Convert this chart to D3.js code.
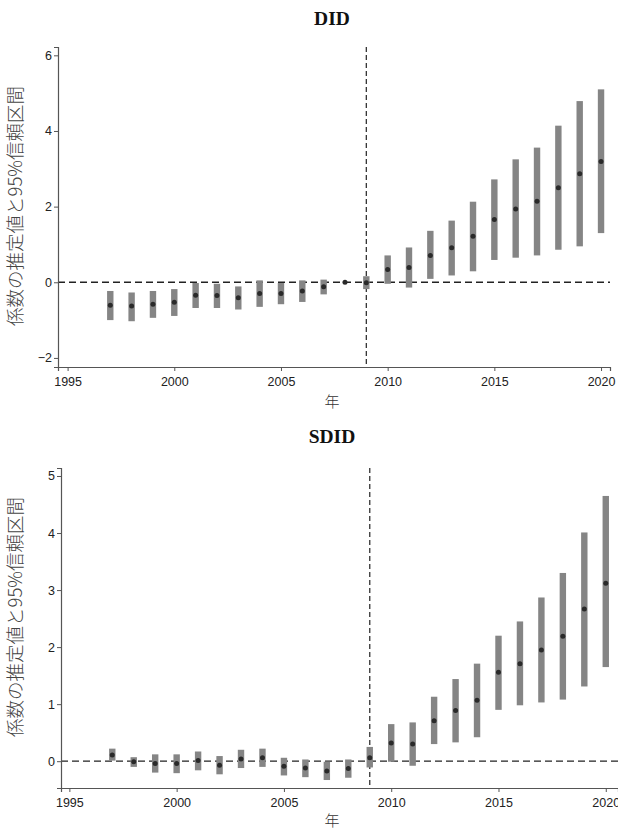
<!DOCTYPE html>
<html>
<head>
<meta charset="utf-8">
<script src="https://cdn.jsdelivr.net/npm/d3@7"></script>
<style>
  body { margin: 0; background: #fff; }
  text { fill: #222; }
</style>
</head>
<body>
<svg id="chart" width="618" height="831"></svg>
<script>
// Years for both panels
var years = [1997, 1998, 1999, 2000, 2001, 2002, 2003, 2004, 2005, 2006, 2007, 2008, 2009,
             2010, 2011, 2012, 2013, 2014, 2015, 2016, 2017, 2018, 2019, 2020];

// DID estimates and 95% CI
var didEst = [-0.61, -0.63, -0.58, -0.53, -0.34, -0.35, -0.41, -0.30, -0.30, -0.23, -0.12, 0.00, -0.01,
              0.34, 0.39, 0.71, 0.91, 1.22, 1.66, 1.94, 2.14, 2.50, 2.87, 3.19];
var didLo  = [-1.00, -1.03, -0.94, -0.89, -0.68, -0.68, -0.72, -0.65, -0.58, -0.52, -0.32, 0.00, -0.18,
              -0.04, -0.14, 0.09, 0.18, 0.29, 0.59, 0.65, 0.71, 0.86, 0.95, 1.30];
var didHi  = [-0.23, -0.27, -0.23, -0.18, -0.02, -0.04, -0.11, 0.05, -0.02, 0.05, 0.07, 0.00, 0.16,
              0.71, 0.92, 1.36, 1.63, 2.13, 2.72, 3.25, 3.56, 4.14, 4.79, 5.10];

// SDID estimates and 95% CI
var sdidEst = [0.11, -0.01, -0.04, -0.04, 0.01, -0.07, 0.04, 0.06, -0.09, -0.12, -0.17, -0.13, 0.06,
               0.32, 0.30, 0.71, 0.89, 1.07, 1.56, 1.71, 1.95, 2.19, 2.67, 3.12];
var sdidLo  = [0.01, -0.10, -0.20, -0.21, -0.16, -0.23, -0.12, -0.10, -0.25, -0.28, -0.33, -0.29, -0.11,
               -0.01, -0.08, 0.30, 0.33, 0.42, 0.90, 0.98, 1.03, 1.08, 1.31, 1.65];
var sdidHi  = [0.22, 0.07, 0.12, 0.12, 0.17, 0.09, 0.20, 0.22, 0.06, 0.03, -0.01, 0.03, 0.25,
               0.65, 0.68, 1.13, 1.44, 1.71, 2.20, 2.45, 2.87, 3.30, 4.01, 4.65];

var xTicks = [1995, 2000, 2005, 2010, 2015, 2020];
var didYTicks = [-2, 0, 2, 4, 6];
var sdidYTicks = [0, 1, 2, 3, 4, 5];
var treatYear = 2009;
var yLabel = "係数の推定値と95%信頼区間";
var xLabel = "年";

var svg = d3.select("#chart");

function drawPanel(opt) {
    var g = svg.append("g");

    var x = d3.scaleLinear().domain(opt.xDomain).range([opt.left, opt.right]);
    var y = d3.scaleLinear().domain(opt.yDomain).range([opt.bottom, opt.top]);

    // Title
    g.append("text")
        .attr("x", opt.titleX).attr("y", opt.titleY)
        .attr("text-anchor", "middle")
        .style("font-family", "'Liberation Serif', 'DejaVu Serif', serif")
        .style("font-size", "19.5px")
        .style("font-weight", "bold")
        .style("fill", "#111")
        .text(opt.title);

    // Reference lines
    g.append("line")
        .attr("x1", opt.left).attr("x2", opt.right)
        .attr("y1", y(0)).attr("y2", y(0))
        .attr("stroke", "#222").attr("stroke-width", 1.3)
        .attr("stroke-dasharray", "7,4");

    g.append("line")
        .attr("x1", x(treatYear)).attr("x2", x(treatYear))
        .attr("y1", opt.top).attr("y2", opt.bottom)
        .attr("stroke", "#333").attr("stroke-width", 1.3)
        .attr("stroke-dasharray", "5,3");

    // CI bars
    var rows = opt.years.map(function (yr, i) {
        return { year: yr, est: opt.est[i], lo: opt.lo[i], hi: opt.hi[i] };
    });

    g.selectAll(".ci").data(rows.filter(function (d) { return d.hi > d.lo; }))
        .enter().append("rect")
        .attr("x", function (d) { return x(d.year) - 3.2; })
        .attr("width", 6.4)
        .attr("y", function (d) { return y(d.hi); })
        .attr("height", function (d) { return y(d.lo) - y(d.hi); })
        .attr("fill", "#858585");

    g.selectAll(".pt").data(rows)
        .enter().append("circle")
        .attr("cx", function (d) { return x(d.year); })
        .attr("cy", function (d) { return y(d.est); })
        .attr("r", 2.5)
        .attr("fill", "#2a2a2a");

    // Axes
    var ax = g.append("g")
        .attr("transform", "translate(0," + opt.bottom + ")")
        .call(d3.axisBottom(x).tickValues(xTicks).tickFormat(d3.format("d")).tickSizeOuter(0).tickSize(4));
    var ay = g.append("g")
        .attr("transform", "translate(" + opt.left + ",0)")
        .call(d3.axisLeft(y).tickValues(opt.yTicks).tickFormat(d3.format("d")).tickSizeOuter(0).tickSize(4));

    [ax, ay].forEach(function (a) {
        a.select(".domain").attr("stroke", "#555").attr("stroke-width", 1.2);
        a.selectAll(".tick line").attr("stroke", "#555");
        a.selectAll(".tick text")
            .style("font-family", "'Liberation Sans', Arial, sans-serif")
            .style("font-size", "12.5px")
            .style("fill", "#222");
    });
    ax.selectAll(".tick text").attr("dy", "0.95em");
    ay.selectAll(".tick text").attr("x", -6);

    // Axis titles
    g.append("text")
        .attr("x", opt.xLabelX).attr("y", opt.xLabelY)
        .attr("text-anchor", "middle")
        .style("font-family", "'Noto Sans CJK JP', sans-serif")
        .style("font-size", "15px")
        .style("font-weight", 300)
        .style("fill", "#333")
        .text(xLabel);

    g.append("text")
        .attr("transform", "translate(" + opt.yLabelX + "," + opt.yLabelY + ") rotate(-90)")
        .attr("text-anchor", "middle")
        .style("font-family", "'Noto Sans CJK JP', sans-serif")
        .style("font-size", "18.5px")
        .style("font-weight", 300)
        .style("fill", "#444")
        .text(yLabel);
}

drawPanel({
    title: "DID", titleX: 332, titleY: 25,
    years: years, est: didEst, lo: didLo, hi: didHi,
    xDomain: [1994.55, 2020.42], yDomain: [-2.24, 6.22], yTicks: didYTicks,
    left: 58, right: 610, top: 47, bottom: 367,
    xLabelX: 332, xLabelY: 407, yLabelX: 22, yLabelY: 206
});

drawPanel({
    title: "SDID", titleX: 332, titleY: 443,
    years: years, est: sdidEst, lo: sdidLo, hi: sdidHi,
    xDomain: [1994.61, 2020.57], yDomain: [-0.47, 5.14], yTicks: sdidYTicks,
    left: 61, right: 618, top: 468, bottom: 788,
    xLabelX: 332, xLabelY: 826, yLabelX: 22, yLabelY: 617
});
</script>
</body>
</html>
